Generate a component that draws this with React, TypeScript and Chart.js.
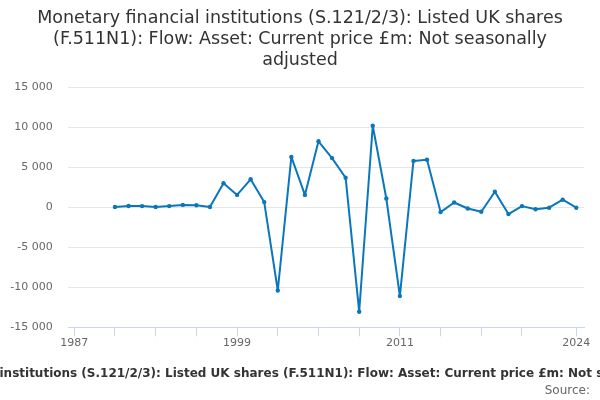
import React, { useEffect, useRef } from "react";
import { Chart, registerables } from "chart.js";

Chart.register(...registerables);

const TITLE_LINES = [
  "Monetary financial institutions (S.121/2/3): Listed UK shares",
  "(F.511N1): Flow: Asset: Current price £m: Not seasonally",
  "adjusted",
];
const CAPTION =
  "Monetary financial institutions (S.121/2/3): Listed UK shares (F.511N1): Flow: Asset: Current price £m: Not seasonally adjusted";
const SOURCE = "Source:";

const years = [
  1990, 1991, 1992, 1993, 1994, 1995, 1996, 1997, 1998, 1999, 2000, 2001,
  2002, 2003, 2004, 2005, 2006, 2007, 2008, 2009, 2010, 2011, 2012, 2013,
  2014, 2015, 2016, 2017, 2018, 2019, 2020, 2021, 2022, 2023, 2024,
];
const values = [
  40, 160, 150, 40, 150, 300, 250, 40, 3000, 1550, 3500, 650,
  -10400, 6300, 1550, 8250, 6150, 3700, -13050, 10200, 1100, -11100, 5800, 5950,
  -600, 600, -150, -550, 1950, -850, 150, -250, -50, 950, -50,
];
const xTickYears = [1987, 1990, 1993, 1996, 1999, 2002, 2005, 2008, 2011, 2014, 2017, 2020, 2024];
const xLabelYears = [1987, 1999, 2011, 2024];
const yTicks = [-15000, -10000, -5000, 0, 5000, 10000, 15000];

const FONT = "'DejaVu Sans', sans-serif";

function fmt(v: number): string {
  const s = Math.abs(v).toString().replace(/\B(?=(\d{3})+(?!\d))/g, " ");
  return (v < 0 ? "-" : "") + s;
}

const captionPlugin = {
  id: "captionText",
  afterDraw(chart: any) {
    const ctx = chart.ctx;
    ctx.save();
    ctx.textBaseline = "middle";
    ctx.font = `bold 12px ${FONT}`;
    ctx.fillStyle = "#333333";
    ctx.textAlign = "center";
    ctx.fillText(CAPTION, chart.width / 2, chart.height - 26.2);
    ctx.font = `12px ${FONT}`;
    ctx.fillStyle = "#666666";
    ctx.textAlign = "right";
    ctx.fillText(SOURCE, chart.width - 10, chart.height - 9.3);
    ctx.restore();
  },
};

export default function App() {
  const ref = useRef<HTMLCanvasElement | null>(null);

  useEffect(() => {
    if (!ref.current) return;
    Chart.defaults.font.family = FONT;
    const chart = new Chart(ref.current, {
      type: "line",
      data: {
        datasets: [
          {
            data: years.map((y, i) => ({ x: y, y: values[i] })),
            borderColor: "#0a77bd",
            backgroundColor: "#0a77bd",
            borderWidth: 2,
            borderJoinStyle: "round",
            pointRadius: 2.2,
            pointHoverRadius: 2.2,
            pointBorderWidth: 0,
            tension: 0,
          },
        ],
      },
      plugins: [captionPlugin],
      options: {
        responsive: false,
        animation: false,
        layout: { padding: { top: 0, left: 0, right: 0, bottom: 42.7 } },
        plugins: {
          legend: { display: false },
          tooltip: { enabled: false },
          title: {
            display: true,
            text: TITLE_LINES,
            color: "#333333",
            font: { family: FONT, size: 17.5, weight: "normal", lineHeight: 1.2 },
            padding: { top: 7.5, bottom: 16.8 },
          },
        },
        scales: {
          x: {
            type: "linear",
            min: 1986.56,
            max: 2024.57,
            afterBuildTicks: (scale: any) => {
              scale.ticks = xTickYears.map((v) => ({ value: v }));
            },
            afterFit: (scale: any) => {
              scale.height = 30;
            },
            ticks: {
              autoSkip: false,
              maxRotation: 0,
              padding: 0,
              color: "#666666",
              font: { family: FONT, size: 11 },
              callback: (v: any) => (xLabelYears.includes(Number(v)) ? String(v) : ""),
            },
            grid: {
              display: true,
              drawOnChartArea: false,
              drawTicks: true,
              tickLength: 9,
              color: "#ccd6eb",
              lineWidth: 1,
            },
            border: { display: true, color: "#ccd6eb", width: 1 },
          },
          y: {
            type: "linear",
            min: -15000,
            max: 15000,
            afterBuildTicks: (scale: any) => {
              scale.ticks = yTicks.map((v) => ({ value: v }));
            },
            afterFit: (scale: any) => {
              scale.width = 68.3;
            },
            ticks: {
              padding: 15.6,
              color: "#666666",
              font: { family: FONT, size: 11 },
              callback: (v: any) => fmt(Number(v)),
            },
            grid: {
              drawTicks: false,
              color: (ctx: any) =>
                ctx.tick && ctx.tick.value === -15000 ? "rgba(0,0,0,0)" : "#e6e6e6",
              lineWidth: 1,
            },
            border: { display: false },
          },
          yRightSpace: {
            type: "linear",
            position: "right",
            display: true,
            afterFit: (scale: any) => {
              scale.width = 16;
            },
            ticks: { display: false },
            grid: { display: false, drawTicks: false },
            border: { display: false },
          },
        },
      },
    });
    return () => chart.destroy();
  }, []);

  return (
    <div style={{ position: "fixed", left: 0, top: 0, width: 600, height: 400, background: "#fff" }}>
      <canvas ref={ref} width={600} height={400} style={{ display: "block" }} />
    </div>
  );
}
